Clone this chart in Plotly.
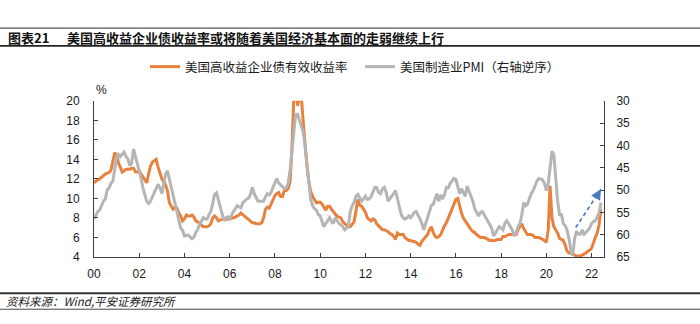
import plotly.graph_objects as go
import pandas as pd

# ---------------- data (monthly) ----------------
months = pd.date_range("2000-01-01", "2022-06-01", freq="MS")

hy_yield = [
    11.6, 11.8, 11.9, 12.0, 12.2, 12.4, 12.5, 12.6, 12.65, 12.9, 13.8, 14.7,   # 2000
    14.4, 13.6, 13.2, 12.7, 12.8, 13.0, 13.0, 13.0, 13.1, 13.1, 12.7, 12.7,    # 2001
    12.8, 12.5, 12.2, 11.8, 11.6, 12.5, 13.3, 13.7, 13.9, 14.0, 13.2, 12.5,    # 2002
    12.0, 11.7, 11.4, 10.8, 9.6, 9.2, 8.9, 9.1, 9.0, 8.5, 8.2, 7.7,            # 2003
    7.9, 8.3, 8.2, 8.2, 8.3, 8.1, 7.7, 7.6, 7.4, 7.2, 7.1, 7.1,                # 2004
    7.1, 7.2, 7.4, 8.0, 8.2, 8.0, 7.7, 7.8, 7.85, 7.9, 7.85, 7.9,              # 2005
    8.0, 8.0, 8.0, 8.1, 8.15, 8.3, 8.5, 8.3, 8.15, 8.0, 7.85, 7.7,             # 2006
    7.5, 7.5, 7.4, 7.4, 7.4, 7.5, 8.0, 8.9, 9.1, 9.0, 9.5, 9.9,                # 2007
    10.3, 10.5, 10.6, 10.2, 10.2, 10.8, 10.8, 11.0, 11.7, 15.0, 20.5, 21.0,    # 2008
    19.5, 20.5, 20.5, 17.9, 15.5, 13.3, 11.7, 10.7, 10.2, 9.8, 9.55, 9.6,      # 2009
    9.6, 9.4, 9.1, 8.8, 9.2, 9.2, 8.9, 8.6, 8.4, 8.15, 8.1, 8.0,               # 2010
    7.6, 7.4, 7.2, 7.1, 7.1, 7.3, 7.6, 8.7, 9.9, 9.3, 9.2, 8.9,                # 2011
    8.6, 8.0, 7.8, 7.7, 7.9, 7.8, 7.4, 7.2, 7.0, 6.8, 6.8, 6.7,                # 2012
    6.6, 6.4, 6.3, 6.1, 5.8, 6.45, 6.3, 6.3, 6.3, 6.0, 5.8, 5.7,               # 2013
    5.7, 5.6, 5.6, 5.5, 5.3, 5.2, 5.6, 5.8, 6.0, 6.3, 6.8, 7.1,                # 2014
    6.5, 6.1, 6.0, 6.1, 6.3, 6.8, 7.2, 7.5, 8.0, 8.3, 8.9, 9.3,                # 2015
    9.9, 10.0, 9.2, 8.5, 8.0, 7.7, 7.3, 7.0, 6.8, 6.6, 6.5, 6.3,               # 2016
    6.1, 6.0, 6.0, 6.0, 5.9, 5.8, 5.7, 5.7, 5.7, 5.7, 5.8, 5.8,                # 2017
    5.8, 6.1, 6.1, 6.2, 6.3, 6.3, 6.3, 6.3, 6.3, 6.8, 7.1, 7.4,                # 2018
    6.9, 6.5, 6.3, 6.3, 6.3, 6.2, 6.0, 6.0, 6.0, 5.9, 5.8, 5.7,                # 2019
    5.5, 6.8, 11.3, 8.0, 7.1, 6.8, 6.45, 5.9, 5.8, 5.7, 5.2, 4.6,              # 2020
    4.4, 4.4, 4.3, 4.2, 4.1, 4.1, 4.1, 4.2, 4.3, 4.4, 4.6, 4.7,                # 2021
    4.9, 5.6, 6.0, 6.45, 7.3, 8.9,                                             # 2022
]

pmi = [
    56.5, 55.5, 54.8, 54.5, 53.5, 52.5, 52.0, 50.0, 49.5, 48.5, 48.0, 45.5,    # 2000
    42.5, 42.0, 42.5, 42.0, 41.5, 42.5, 43.0, 44.5, 44.0, 40.8, 42.5, 44.0,    # 2001
    45.5, 47.5, 49.5, 51.0, 52.5, 53.0, 52.5, 51.5, 50.5, 49.5, 48.7, 49.5,    # 2002
    50.8, 48.5, 46.5, 45.7, 47.5, 49.4, 51.5, 53.0, 55.0, 56.5, 58.5, 59.0,    # 2003
    60.3, 60.2, 60.1, 60.5, 60.9, 60.6, 59.5, 58.9, 57.5, 57.0, 56.2, 56.5,    # 2004
    56.5, 55.5, 54.8, 53.0, 51.0, 50.6, 52.1, 54.0, 55.8, 56.9, 56.2, 56.0,    # 2005
    56.5, 55.5, 54.8, 54.2, 53.5, 53.8, 54.0, 52.8, 52.5, 52.0, 51.8, 51.0,    # 2006
    49.4, 50.8, 51.5, 52.5, 52.5, 52.5, 52.5, 51.5, 50.8, 51.1, 50.5, 49.4,    # 2007
    48.5, 47.4, 48.4, 48.8, 49.4, 49.7, 49.5, 48.5, 45.5, 41.0, 36.5, 33.0,    # 2008
    33.0, 34.5, 35.5, 37.0, 40.0, 44.0, 48.0, 52.1, 53.5, 54.2, 54.5, 55.5,    # 2009
    55.8, 57.0, 58.2, 57.5, 56.8, 56.2, 57.0, 57.5, 56.2, 56.8, 57.5, 57.8,    # 2010
    58.2, 58.9, 58.5, 58.2, 54.8, 53.5, 52.8, 51.4, 51.0, 51.8, 52.5, 52.0,    # 2011
    51.4, 52.1, 52.0, 51.5, 50.4, 49.4, 49.4, 50.5, 50.8, 49.8, 49.4, 50.5,    # 2012
    52.5, 52.0, 51.4, 50.8, 50.1, 52.0, 54.2, 55.5, 56.2, 56.5, 56.2, 55.8,    # 2013
    56.2, 55.5, 55.0, 54.8, 55.5, 56.5, 57.5, 58.9, 57.5, 56.2, 55.0, 53.4,    # 2014
    53.2, 52.1, 50.8, 52.5, 51.1, 52.0, 51.0, 49.4, 49.5, 48.5, 48.0, 47.4,    # 2015
    47.6, 49.4, 50.8, 49.7, 50.5, 51.4, 49.1, 50.5, 51.4, 52.5, 54.2, 55.0,    # 2016
    55.8, 55.0, 54.8, 55.5, 56.2, 56.8, 57.5, 58.5, 60.3, 59.5, 58.9, 58.2,    # 2017
    58.5, 58.9, 57.5, 56.9, 57.5, 58.2, 59.0, 60.3, 59.5, 58.2, 57.5, 55.5,    # 2018
    52.8, 53.5, 53.2, 52.0, 50.8, 50.1, 49.0, 48.0, 47.4, 47.5, 47.7, 48.5,    # 2019
    50.1, 48.5, 45.5, 41.3, 42.0, 48.5, 52.5, 55.5, 55.5, 57.5, 58.0, 59.0,    # 2020
    60.9, 63.6, 64.6, 60.9, 59.2, 59.9, 59.9, 58.9, 59.9, 59.5, 58.9, 58.5,    # 2021
    57.5, 57.0, 56.9, 56.0, 55.2, 52.8,                                        # 2022
]

series_names = ["美国高收益企业债有效收益率", "美国制造业PMI（右轴逆序）"]
left_ticks = [4, 6, 8, 10, 12, 14, 16, 18, 20]
right_ticks = [30, 35, 40, 45, 50, 55, 60, 65]
arrow_x = ["2021-04-20", "2022-06-01"]
arrow_pmi = [58.4, 49.8]

# ---------------- figure ----------------
W, H = 700, 324
ML, MR, MT, MB = 94, 96, 85, 67
PW, PH = W - ML - MR, H - MT - MB


def px_x(px):
    return (px - ML) / PW


def px_y(py):
    return (H - MB - py) / PH


FONT = "Liberation Sans, Arial, Noto Sans CJK SC, sans-serif"
CJK = "Noto Sans CJK SC, Liberation Sans, sans-serif"
AXC = "#404040"

fig = go.Figure()
fig.add_trace(go.Scatter(x=months, y=hy_yield, name=series_names[0], mode="lines",
                         line=dict(color="#E8813D", width=3), yaxis="y"))
fig.add_trace(go.Scatter(x=months, y=pmi, name=series_names[1], mode="lines",
                         line=dict(color="#B5B5B5", width=3), yaxis="y2"))

# dashed arrow (right axis)
fig.add_trace(go.Scatter(x=arrow_x, y=arrow_pmi, mode="lines", yaxis="y2", showlegend=False,
                         hoverinfo="skip",
                         line=dict(color="#4A78C2", width=1.6, dash="4px,3px")))

axis_common = dict(showgrid=False, zeroline=False, showline=True, linecolor=AXC, linewidth=1,
                   ticks="inside", ticklen=4, tickcolor=AXC, tickwidth=1,
                   tickfont=dict(family=FONT, size=12, color="#1a1a1a"))

fig.update_layout(
    width=W, height=H,
    margin=dict(l=ML, r=MR, t=MT, b=MB, pad=0),
    paper_bgcolor="white", plot_bgcolor="white",
    font=dict(family=FONT, size=12, color="#1a1a1a"),
    xaxis=dict(type="date", range=["2000-01-01", "2022-07-20"], tickformat="%y",
               dtick="M24", tick0="2000-01-01", ticklabelstandoff=6, **axis_common),
    yaxis=dict(range=[4, 20], tickvals=left_ticks, ticklabelstandoff=11, **axis_common),
    yaxis2=dict(range=[65, 30], tickvals=right_ticks, overlaying="y", side="right",
                ticklabelstandoff=9, **axis_common),
    legend=dict(orientation="h", xref="container", yref="container",
                x=145 / W, y=1 - 67 / H, xanchor="left", yanchor="middle",
                entrywidth=170, entrywidthmode="pixels", itemwidth=30,
                font=dict(family=CJK, size=12.5, color="#1a1a1a"),
                bgcolor="rgba(0,0,0,0)", tracegroupgap=0),
    showlegend=True,
)

# arrow head
fig.add_annotation(x=arrow_x[1], y=arrow_pmi[1], xref="x", yref="y2",
                   ax=-4.5, ay=7.5, axref="pixel", ayref="pixel",
                   showarrow=True, arrowhead=2, arrowsize=1.3, arrowwidth=1.6,
                   arrowcolor="#4A78C2", text="", standoff=0)

# % unit label
fig.add_annotation(x=px_x(101), y=px_y(73), xref="paper", yref="paper", text="%",
                   showarrow=False, xanchor="center", yanchor="middle",
                   font=dict(family=FONT, size=12, color="#1a1a1a"))

# title
fig.add_annotation(x=px_x(6), y=px_y(15.5), xref="paper", yref="paper", text="<b>图表21</b>",
                   showarrow=False, xanchor="left", yanchor="middle",
                   font=dict(family=CJK, size=13, color="#111"))
fig.add_annotation(x=px_x(65), y=px_y(15.5), xref="paper", yref="paper",
                   text="<b>美国高收益企业债收益率或将随着美国经济基本面的走弱继续上行</b>",
                   showarrow=False, xanchor="left", yanchor="middle",
                   font=dict(family=CJK, size=13, color="#111"))

# footer
fig.add_annotation(x=px_x(4), y=px_y(306), xref="paper", yref="paper",
                   text="<i>资料来源：Wind,平安证券研究所</i>",
                   showarrow=False, xanchor="left", yanchor="middle",
                   font=dict(family=CJK, size=11.5, color="#222"))

# header / footer rules
for y, w, c in [(5, 1.2, "#555"), (24.5, 1.6, "#222"), (297, 2.0, "#333"), (314.5, 1.0, "#444")]:
    fig.add_shape(type="line", xref="paper", yref="paper",
                  x0=px_x(0), x1=px_x(W), y0=px_y(y), y1=px_y(y),
                  line=dict(color=c, width=w))

fig.write_html("out.html")
